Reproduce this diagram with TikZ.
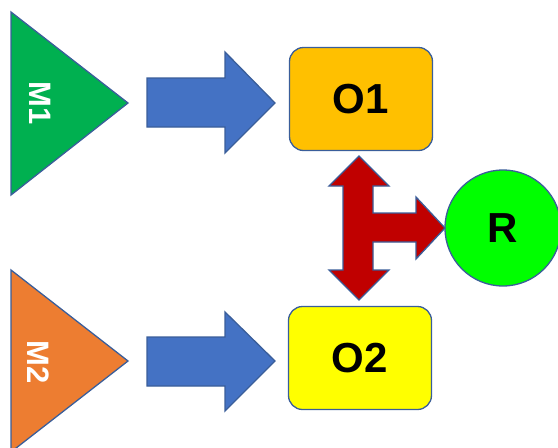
\documentclass[tikz,border=0pt]{standalone}
\usepackage{fontspec}
\setmainfont{Liberation Sans}
\definecolor{edgeblue}{HTML}{3A5E9A}
\definecolor{arrowblue}{HTML}{4472C4}
\definecolor{mgreen}{HTML}{00B050}
\definecolor{morange}{HTML}{ED7D31}
\definecolor{oorange}{HTML}{FFC000}
\definecolor{oyellow}{HTML}{FFFF00}
\definecolor{rgreen}{HTML}{00FF00}
\definecolor{tred}{HTML}{C00000}
\tikzset{
  edge/.style={draw=edgeblue, line width=1.3pt, line join=miter},
  tri/.style={edge},
  trilabel/.style={text=white, font=\bfseries\fontsize{31}{31}\selectfont, rotate=-90},
  obox/.style={edge, rounded corners=14pt, minimum width=143pt, minimum height=103pt,
    font=\bfseries\fontsize{42}{42}\selectfont, inner sep=0pt},
  rcirc/.style={edge, circle, minimum size=116pt, fill=rgreen,
    font=\bfseries\fontsize{42}{42}\selectfont, inner sep=0pt},
  blockarrow/.style={edge, fill=arrowblue},
}
\begin{document}
\begin{tikzpicture}[x=1pt, y=-1pt]
\useasboundingbox (0,0) rectangle (558,448);
% triangles
\draw[tri, fill=mgreen] (11,12) -- (128,103) -- (11,195) -- cycle;
\node[trilabel] (M1) at (40,103) {M1};
\draw[tri, fill=morange] (11,270) -- (128,361) -- (11,452) -- cycle;
\node[trilabel] (M2) at (38,362) {M2};
% boxes
\node[obox, fill=oorange] (O1) at (361,99) {O1};
\node[obox, fill=oyellow] (O2) at (360,358) {O2};
\node[rcirc] (R) at (503,228) {R};
% blue block arrows
\draw[blockarrow] (147,78) -- (225,78) -- (225,52) -- (275,103) -- (225,153) -- (225,127) -- (147,127) -- cycle;
\draw[blockarrow] (147,337) -- (225,337) -- (225,312) -- (275,361) -- (225,411) -- (225,386) -- (147,386) -- cycle;
% red T arrow
\draw[edge, fill=tred] (359,156) -- (389,186) -- (373,186) -- (373,213) -- (416,213) -- (416,197)
  -- (445,228) -- (416,259) -- (416,242) -- (373,242) -- (373,270) -- (389,270) -- (359,300)
  -- (329,270) -- (343,270) -- (343,186) -- (329,186) -- cycle;
\end{tikzpicture}
\end{document}
